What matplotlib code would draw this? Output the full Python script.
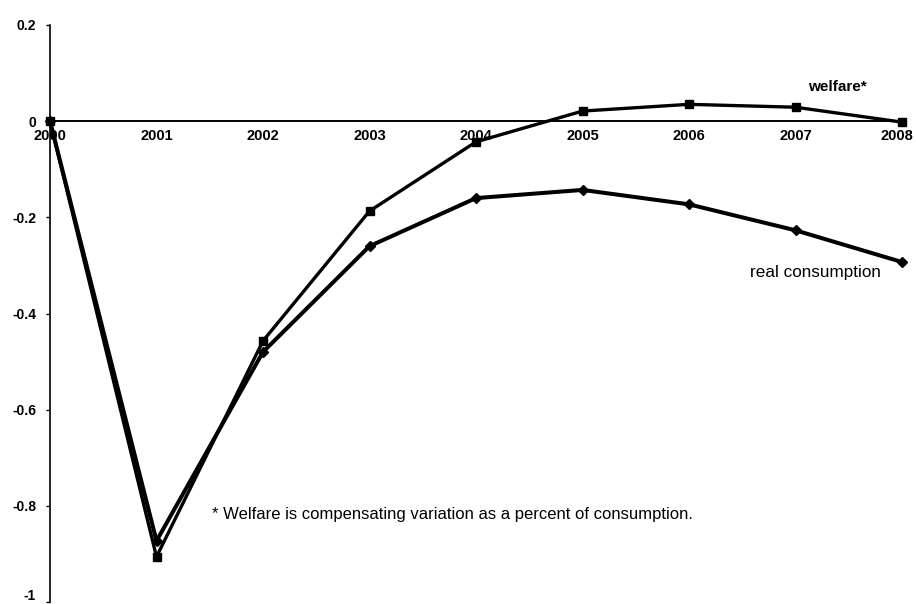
import matplotlib.pyplot as plt
import matplotlib.transforms as mtransforms
import numpy as np

plt.rcParams['font.family'] = ['Liberation Sans', 'DejaVu Sans']

years = [2000, 2001, 2002, 2003, 2004, 2005, 2006, 2007, 2008]
welfare = [0.0, -0.906, -0.457, -0.187, -0.043, 0.021, 0.035, 0.029, -0.002]
real_consumption = [0.0, -0.873, -0.48, -0.26, -0.16, -0.143, -0.173, -0.227, -0.293]
y_ticks = [0.2, 0, -0.2, -0.4, -0.6, -0.8, -1]
y_tick_labels = ['0.2', '0', '-0.2', '-0.4', '-0.6', '-0.8', '-1']

fig = plt.figure(figsize=(9.16, 6.04), dpi=100)
left_px, right_px, top_px, bot_px = 50, 902, 25, 602
ax = fig.add_axes([left_px / 916, 1 - bot_px / 604,
                   (right_px - left_px) / 916, (bot_px - top_px) / 604])

# welfare line (squares) and consumption line (diamonds)
ax.plot(years, welfare, color='black', lw=2.4, marker='s', ms=5.5, zorder=3, clip_on=False)
ax.plot(years, real_consumption, color='black', lw=2.9, marker='D', ms=5.5, zorder=3, clip_on=False)

ax.set_xlim(2000, 2008)
ax.set_ylim(-1, 0.2)

# x axis sits on zero
ax.spines['bottom'].set_position(('data', 0))
ax.spines['bottom'].set_linewidth(1.4)
ax.spines['left'].set_linewidth(1.2)
ax.spines['top'].set_visible(False)
ax.spines['right'].set_visible(False)

ax.set_xticks(years)
ax.set_xticklabels([str(y) for y in years], fontsize=10.5, fontweight='bold')
ax.tick_params(axis='x', length=0, pad=6)
ax.set_yticks(y_ticks)
ax.set_yticklabels(y_tick_labels, fontsize=10, fontweight='bold')
ax.tick_params(axis='y', length=3, width=1, pad=7)

# nudge edge labels so they stay inside the figure
lbl = ax.get_yticklabels()[-1]
lbl.set_transform(lbl.get_transform() + mtransforms.ScaledTranslation(0, 7 / 100, fig.dpi_scale_trans))
lbl = ax.get_xticklabels()[-1]
lbl.set_transform(lbl.get_transform() + mtransforms.ScaledTranslation(-5 / 100, 0, fig.dpi_scale_trans))

ax.text(2007.12, 0.071, 'welfare*', fontsize=11, fontweight='bold', ha='left', va='center')
ax.text(2006.57, -0.314, 'real consumption', fontsize=12.3, ha='left', va='center')
ax.text(2001.52, -0.817, '* Welfare is compensating variation as a percent of consumption.',
        fontsize=12, ha='left', va='center')

fig.savefig('out.png', dpi=100)
